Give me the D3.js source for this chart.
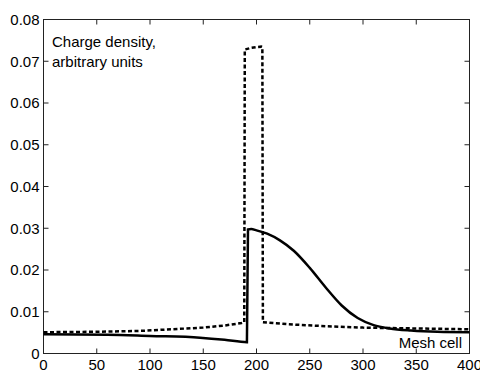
<!DOCTYPE html>
<html>
<head>
    <script src="https://d3js.org/d3.v7.min.js"></script>
    <style>
        body { margin: 0; background: #fff; }
        text { font-family: "Liberation Sans", Arial, sans-serif; font-size: 15px; fill: #000; }
    </style>
</head>
<body>
    <script>
        // mesh cell positions and charge density for the two curves
        const cellsDashed = [0, 50, 90, 120, 150, 170, 186, 188.5, 189, 195, 200, 204.5, 205.5, 206, 230, 260, 300, 350, 400];
        const densDashed = [0.0051, 0.0052, 0.0054, 0.0058, 0.0062, 0.0067, 0.0073, 0.0075, 0.0728, 0.0732, 0.0734, 0.0735, 0.0734, 0.0075, 0.0070, 0.0066, 0.0062, 0.0060, 0.0058];

        const cellsSolid = [0, 60, 100, 147, 170, 191, 192, 195, 200, 210, 222, 235, 250, 265, 280, 295, 310, 325, 345, 370, 400];
        const densSolid = [0.0046, 0.0045, 0.0042, 0.0038, 0.0033, 0.0027, 0.0297, 0.0298, 0.0295, 0.0287, 0.0271, 0.0246, 0.0205, 0.0158, 0.0115, 0.0085, 0.0068, 0.0060, 0.0055, 0.0052, 0.0051];

        const xTicks = [0, 50, 100, 150, 200, 250, 300, 350, 400];
        const yTicks = [0, 0.01, 0.02, 0.03, 0.04, 0.05, 0.06, 0.07, 0.08];

        const width = 480, height = 374;
        const mLeft = 43.5, mRight = 469.5, mTop = 19.5, mBottom = 353.5;

        const svg = d3.select("body").append("svg")
            .attr("width", width)
            .attr("height", height);

        const x = d3.scaleLinear().domain([0, 400]).range([mLeft, mRight]);
        const y = d3.scaleLinear().domain([0, 0.08]).range([mBottom, mTop]);

        // frame
        svg.append("rect")
            .attr("x", mLeft).attr("y", mTop)
            .attr("width", mRight - mLeft).attr("height", mBottom - mTop)
            .attr("fill", "none").attr("stroke", "#222").attr("stroke-width", 1);

        // ticks pointing inward, on all four sides
        const tl = 5;
        svg.selectAll("line.xt").data(xTicks).enter().append("line")
            .attr("x1", d => x(d)).attr("x2", d => x(d))
            .attr("y1", mBottom).attr("y2", mBottom - tl)
            .attr("stroke", "#222");
        svg.selectAll("line.xtt").data(xTicks).enter().append("line")
            .attr("x1", d => x(d)).attr("x2", d => x(d))
            .attr("y1", mTop).attr("y2", mTop + tl)
            .attr("stroke", "#222");
        svg.selectAll("line.yt").data(yTicks).enter().append("line")
            .attr("x1", mLeft).attr("x2", mLeft + tl)
            .attr("y1", d => y(d)).attr("y2", d => y(d))
            .attr("stroke", "#222");
        svg.selectAll("line.ytr").data(yTicks).enter().append("line")
            .attr("x1", mRight).attr("x2", mRight - tl)
            .attr("y1", d => y(d)).attr("y2", d => y(d))
            .attr("stroke", "#222");

        // tick labels
        svg.selectAll("text.xl").data(xTicks).enter().append("text")
            .attr("x", d => x(d)).attr("y", mBottom + 16)
            .attr("text-anchor", "middle")
            .text(d => d);
        svg.selectAll("text.yl").data(yTicks).enter().append("text")
            .attr("x", mLeft - 4).attr("y", d => y(d))
            .attr("dy", "0.35em")
            .attr("text-anchor", "end")
            .text(d => d === 0 ? "0" : d.toFixed(2));

        // curves
        const line = d3.line().x(d => x(d[0])).y(d => y(d[1]));
        const smooth = d3.line().x(d => x(d[0])).y(d => y(d[1])).curve(d3.curveMonotoneX);

        svg.append("path")
            .datum(d3.zip(cellsSolid, densSolid))
            .attr("d", smooth)
            .attr("fill", "none").attr("stroke", "#000")
            .attr("stroke-width", 2.5)
            .attr("stroke-linejoin", "miter");

        svg.append("path")
            .datum(d3.zip(cellsDashed, densDashed))
            .attr("d", line)
            .attr("fill", "none").attr("stroke", "#000")
            .attr("stroke-width", 2.5)
            .attr("stroke-dasharray", "4,2.5");

        // annotations
        svg.append("text").attr("x", 52).attr("y", 47).text("Charge density,");
        svg.append("text").attr("x", 52).attr("y", 67).text("arbitrary units");
        svg.append("text").attr("x", 462).attr("y", 348)
            .attr("text-anchor", "end").text("Mesh cell");
    </script>
</body>
</html>
